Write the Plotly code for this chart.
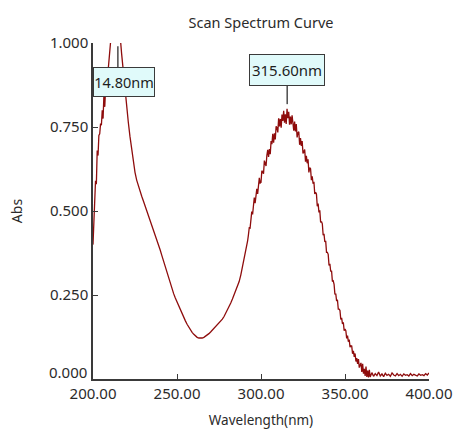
import numpy as np
import plotly.graph_objects as go

# Wavelength grid (nm): finer sampling where the trace is noisy
wl_rise = np.arange(200.0, 212.0, 0.5)
wl_mid = np.arange(212.0, 293.0, 1.0)
wl_band = np.arange(292.5, 365.5, 0.5)
wl_tail = np.arange(366.0, 401.0, 1.0)

abs_rise = [0.40, 0.47, 0.50, 0.59, 0.58, 0.68, 0.665, 0.725, 0.73, 0.76, 0.755, 0.80,
            0.775, 0.845, 0.81, 0.865, 0.86, 0.895, 0.91, 0.96, 0.975, 1.005, 1.02, 1.03]

abs_mid = [1.035, 1.04, 1.045, 1.045, 1.03, 0.97, 0.915, 0.862, 0.812, 0.765,
           0.722, 0.684, 0.645, 0.615, 0.592, 0.574, 0.558, 0.544, 0.53, 0.516,
           0.502, 0.487, 0.472, 0.457, 0.443, 0.429, 0.415, 0.40, 0.384, 0.367,
           0.35, 0.333, 0.316, 0.299, 0.283, 0.268, 0.254, 0.241, 0.229, 0.218,
           0.206, 0.195, 0.184, 0.173, 0.163, 0.154, 0.146, 0.139, 0.133, 0.128,
           0.124, 0.122, 0.121, 0.122, 0.124, 0.127, 0.131, 0.135, 0.140, 0.145,
           0.150, 0.155, 0.160, 0.165, 0.171, 0.178, 0.186, 0.195, 0.205, 0.215,
           0.226, 0.238, 0.25, 0.262, 0.275, 0.29, 0.31, 0.333, 0.358, 0.384, 0.41]

abs_band = [0.428, 0.450, 0.449, 0.468, 0.498, 0.490, 0.514, 0.540, 0.523, 0.541,
            0.566, 0.551, 0.580, 0.599, 0.583, 0.585, 0.620, 0.617, 0.611, 0.650,
            0.636, 0.634, 0.666, 0.682, 0.661, 0.684, 0.669, 0.708, 0.699, 0.730,
            0.703, 0.731, 0.713, 0.752, 0.748, 0.734, 0.776, 0.752, 0.774, 0.748,
            0.787, 0.768, 0.798, 0.763, 0.788, 0.759, 0.804, 0.776, 0.795, 0.757,
            0.781, 0.758, 0.785, 0.760, 0.739, 0.766, 0.737, 0.759, 0.719, 0.733,
            0.736, 0.697, 0.717, 0.694, 0.708, 0.671, 0.681, 0.683, 0.647, 0.664,
            0.642, 0.654, 0.615, 0.629, 0.626, 0.592, 0.603, 0.581, 0.587, 0.551,
            0.556, 0.551, 0.514, 0.522, 0.496, 0.502, 0.466, 0.469, 0.462, 0.428,
            0.432, 0.408, 0.411, 0.377, 0.377, 0.371, 0.338, 0.343, 0.320, 0.322,
            0.290, 0.292, 0.282, 0.252, 0.254, 0.232, 0.236, 0.208, 0.208, 0.204,
            0.177, 0.182, 0.164, 0.169, 0.144, 0.149, 0.144, 0.121, 0.129, 0.111,
            0.117, 0.095, 0.099, 0.098, 0.075, 0.084, 0.066, 0.076, 0.052, 0.062,
            0.045, 0.059, 0.034, 0.044, 0.048, 0.021, 0.045, 0.016, 0.030, 0.009,
            0.037, 0.006, 0.025, 0.005, 0.027, 0.006]

abs_tail = [0.019, 0.008, 0.016, 0.010, 0.021, 0.009, 0.015, 0.007, 0.017, 0.011,
            0.014, 0.008, 0.018, 0.012, 0.009, 0.016, 0.010, 0.014, 0.008, 0.015,
            0.011, 0.013, 0.009, 0.016, 0.010, 0.014, 0.012, 0.009, 0.015, 0.011,
            0.013, 0.010, 0.016, 0.012, 0.018]

# Peak markers
peak_wl = [214.80, 315.60]
peak_text = ["14.80nm", "315.60nm"]

x_ticks = [200, 250, 300, 350, 400]
y_ticks = [0.0, 0.25, 0.5, 0.75, 1.0]

wavelength = np.concatenate([wl_rise, wl_mid, wl_band, wl_tail])
absorbance = np.array(abs_rise + abs_mid + abs_band + abs_tail)
assert len(wavelength) == len(absorbance)

FONT = "Noto Sans"
INK = "#2b2b2b"

fig = go.Figure()
fig.add_trace(go.Scatter(
    x=wavelength, y=absorbance, mode="lines",
    line=dict(color="#8e0c0c", width=1.3),
    hoverinfo="skip", showlegend=False,
))

axis_common = dict(
    showgrid=False, zeroline=False, showline=True, linecolor="#3a3a3a",
    linewidth=1.5, ticks="inside", ticklen=5, tickwidth=1.3, tickcolor="#3a3a3a",
    tickfont=dict(family=FONT, size=15, color=INK), mirror=False, automargin=False,
)

fig.update_xaxes(
    range=[200, 400], tickvals=x_ticks, tickformat=".2f",
    title=dict(text="Wavelength(nm)", font=dict(family=FONT, size=13.5, color=INK), standoff=14),
    **axis_common,
)
# the 0.000 label is lifted clear of the x labels, so it is written separately
y_text = ["" if v == 0 else f"{v:.3f}" for v in y_ticks]
fig.update_yaxes(
    range=[0, 1.0], tickvals=y_ticks, ticktext=y_text,
    title=dict(text="Abs", font=dict(family=FONT, size=14, color=INK), standoff=24),
    **axis_common,
)
fig.add_annotation(x=0, xref="paper", y=y_ticks[0], yref="y", text=f"{y_ticks[0]:.3f}",
                   xanchor="right", yanchor="middle", xshift=-4, yshift=7, showarrow=False,
                   font=dict(family=FONT, size=15, color=INK))

box_style = dict(bgcolor="#e0fafa", bordercolor="#3a3a3a", borderwidth=1, showarrow=False)

# Left peak: box sits against the frame below the clipped top, stem rises to the frame
fig.add_annotation(x=200, y=0.884, xref="x", yref="y", xanchor="left", yanchor="middle",
                   text=peak_text[0], width=60, height=28, borderpad=0,
                   font=dict(family=FONT, size=14.5, color="#1e1e1e"), **box_style)
fig.add_shape(type="line", x0=peak_wl[0], x1=peak_wl[0], y0=0.928, y1=0.99,
              xref="x", yref="y", line=dict(color="#555555", width=1.6))

# Right peak: box above the band maximum, stem pointing down
fig.add_annotation(x=peak_wl[1], y=0.921, xref="x", yref="y", xanchor="center",
                   yanchor="middle", text=peak_text[1], width=70, height=26, borderpad=2,
                   font=dict(family=FONT, size=15, color="#1e1e1e"), **box_style)
fig.add_shape(type="line", x0=peak_wl[1], x1=peak_wl[1], y0=0.818, y1=0.875,
              xref="x", yref="y", line=dict(color="#555555", width=1.6))

fig.update_layout(
    width=456, height=430,
    margin=dict(l=93, r=27, t=43, b=51),
    paper_bgcolor="white", plot_bgcolor="white",
    title=dict(text="Scan Spectrum Curve", x=0.5, xref="paper", xanchor="center",
               y=1 - 23 / 430, yref="container", yanchor="middle",
               font=dict(family=FONT, size=14.5, color=INK)),
    showlegend=False,
)

fig.write_html("out.html")
